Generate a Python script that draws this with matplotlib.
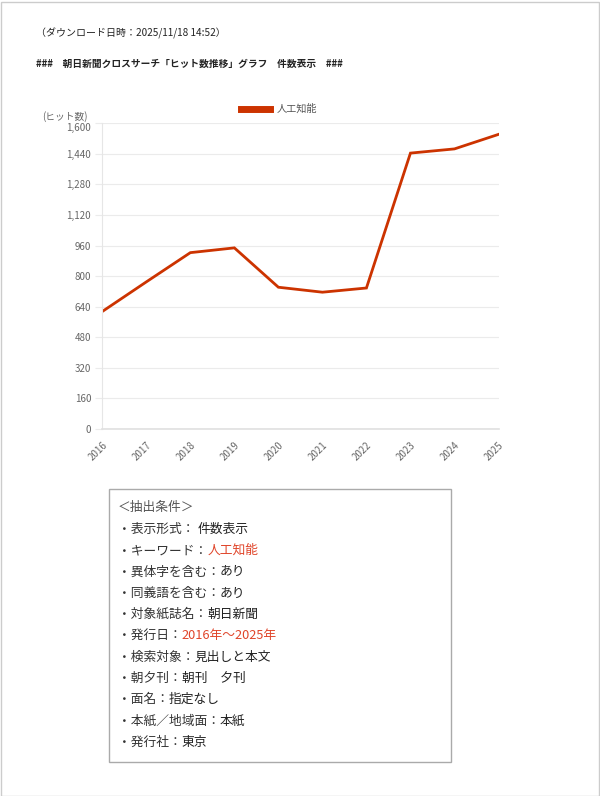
import matplotlib.pyplot as plt
from matplotlib.patches import Rectangle
from matplotlib.ticker import FuncFormatter

plt.rcParams['font.family'] = ['Noto Sans CJK JP', 'DejaVu Sans']

# data
years = ['2016', '2017', '2018', '2019', '2020', '2021', '2022', '2023', '2024', '2025']
hits = [615, 770, 923, 948, 742, 716, 738, 1444, 1466, 1542]
series_name = '人工知能'
yticks = list(range(0, 1601, 160))

conditions = [
    ('＜抽出条件＞', '', False),
    ('・表示形式： ', '件数表示', False),
    ('・キーワード：', '人工知能', True),
    ('・異体字を含む：', 'あり', False),
    ('・同義語を含む：', 'あり', False),
    ('・対象紙誌名：', '朝日新聞', False),
    ('・発行日：', '2016年～2025年', True),
    ('・検索対象：', '見出しと本文', False),
    ('・朝夕刊：', '朝刊　夕刊', False),
    ('・面名：', '指定なし', False),
    ('・本紙／地域面：', '本紙', False),
    ('・発行社：', '東京', False),
]

W, H = 600, 796
fig = plt.figure(figsize=(W / 100, H / 100), dpi=100)
line_color = '#cc3300'
red_text = '#e0452a'

# page border
fig.patches.append(Rectangle((0.5 / W, 0.5 / H), 1 - 2 / W, 1 - 2 / H, transform=fig.transFigure,
                             fill=False, edgecolor='#cccccc', lw=1))

fig.text(36 / W, 1 - 33 / H, '（ダウンロード日時：2025/11/18 14:52）', fontsize=7.2, va='center', color='#222222')
fig.text(36 / W, 1 - 64 / H, '###　朝日新聞クロスサーチ「ヒット数推移」グラフ　件数表示　###',
         fontsize=7.0, va='center', fontweight='bold', color='#222222')

ax = fig.add_axes([102.3 / W, 1 - 429 / H, 396.2 / W, 305.7 / H])
x = list(range(len(years)))
ax.plot(x, hits, color=line_color, lw=2.0, label=series_name, solid_joinstyle='miter')
ax.set_xlim(0, len(years) - 1)
ax.set_ylim(0, 1600)
ax.set_xticks(x)
ax.set_xticklabels(years, rotation=45, ha='right', rotation_mode='anchor')
ax.set_yticks(yticks)
ax.yaxis.set_major_formatter(FuncFormatter(lambda v, p: f'{int(v):,}'))
ax.tick_params(axis='y', length=5, color='#ebebeb', labelsize=7, labelcolor='#666666', pad=3)
ax.tick_params(axis='x', length=0, labelsize=7, labelcolor='#666666', pad=8)
ax.grid(axis='y', color='#ebebeb', lw=0.8)
ax.set_axisbelow(True)
for s in ['top', 'right']:
    ax.spines[s].set_visible(False)
ax.spines['left'].set_color('#e6e6e6')
ax.spines['bottom'].set_color('#e0e0e0')
ax.spines['bottom'].set_linewidth(1.2)
ax.yaxis.get_ticklabels()[-1].set_va('top')

fig.text(42 / W, 1 - 117 / H, '(ヒット数)', fontsize=7, color='#666666', va='center')

leg = fig.legend(loc='center', bbox_to_anchor=(279 / W, 1 - 109 / H), frameon=False,
                 fontsize=7.3, handlelength=2.9, handletextpad=0.6)
for lh in leg.get_lines():
    lh.set_linewidth(5)
for t in leg.get_texts():
    t.set_color('#555555')

# conditions box
fig.patches.append(Rectangle((109 / W, 1 - 762 / H), 342 / W, 273 / H, transform=fig.transFigure,
                             fill=False, edgecolor='#aaaaaa', lw=1))
fig.canvas.draw()
renderer = fig.canvas.get_renderer()
y0 = 508
for i, (label, value, red) in enumerate(conditions):
    yy = 1 - (y0 + i * 21.3) / H
    t = fig.text(118 / W, yy, label, fontsize=9.2, va='center', color='#333333' if i else '#555555')
    if value:
        bb = t.get_window_extent(renderer=renderer)
        fig.text(bb.x1 / W, yy, value, fontsize=9.2, va='center', color=red_text if red else '#222222')

fig.savefig('out.png', dpi=100)
